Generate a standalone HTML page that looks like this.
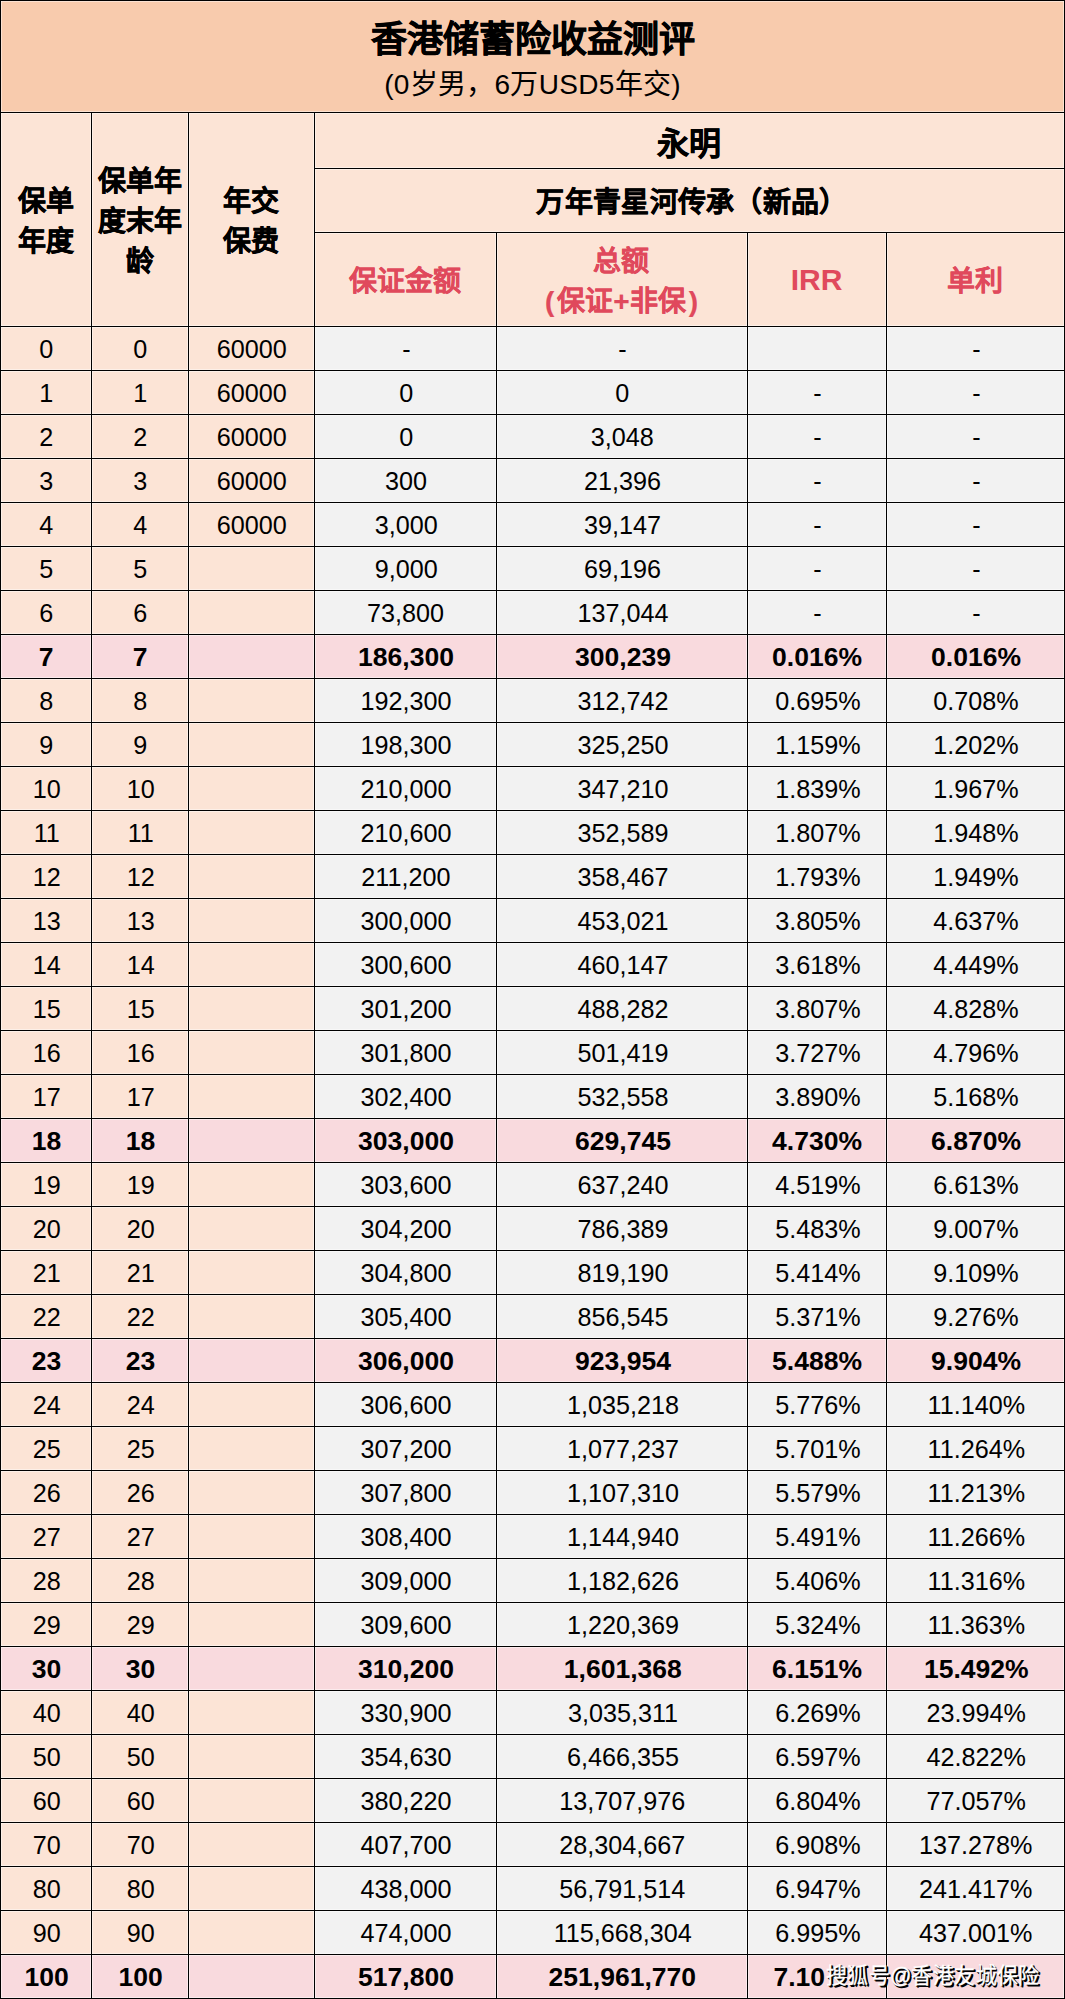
<!DOCTYPE html><html lang="zh-CN"><head><meta charset="utf-8"><style>
*{margin:0;padding:0;box-sizing:border-box}
html,body{width:1065px;height:1999px;overflow:hidden;background:#fff}
body{position:relative;font-family:"Liberation Sans",sans-serif;color:#000}
.b{position:absolute}
.l{position:absolute;background:#000}
.hh{position:absolute;background:rgba(255,255,255,.45)}
.t{position:absolute;display:flex;align-items:center;justify-content:center;white-space:nowrap;text-align:center}
.n{font-size:26.5px}
.n span{display:inline-block;transform:scaleX(.95);position:relative;top:1px;left:1px}
.nb{font-size:26px;font-weight:bold}
.nb span{display:inline-block;transform:scaleX(1.02);position:relative;top:1px;left:1px}
.hd{font-weight:bold;font-size:28px;line-height:40px;padding-top:6px;-webkit-text-stroke:0.5px currentColor}
.red{color:#E0495C}
.hd.red{-webkit-text-stroke:0.2px currentColor}
</style></head><body><div class="b" style="left:0px;top:0px;width:1065px;height:112px;background:#F8CBAD"></div><div class="b" style="left:0px;top:112px;width:1065px;height:214px;background:#FCE4D6"></div><div class="b" style="left:0px;top:326px;width:314px;height:44px;background:#FCE4D6"></div><div class="b" style="left:314px;top:326px;width:751px;height:44px;background:#F2F2F2"></div><div class="b" style="left:0px;top:370px;width:314px;height:44px;background:#FCE4D6"></div><div class="b" style="left:314px;top:370px;width:751px;height:44px;background:#F2F2F2"></div><div class="b" style="left:0px;top:414px;width:314px;height:44px;background:#FCE4D6"></div><div class="b" style="left:314px;top:414px;width:751px;height:44px;background:#F2F2F2"></div><div class="b" style="left:0px;top:458px;width:314px;height:44px;background:#FCE4D6"></div><div class="b" style="left:314px;top:458px;width:751px;height:44px;background:#F2F2F2"></div><div class="b" style="left:0px;top:502px;width:314px;height:44px;background:#FCE4D6"></div><div class="b" style="left:314px;top:502px;width:751px;height:44px;background:#F2F2F2"></div><div class="b" style="left:0px;top:546px;width:314px;height:44px;background:#FCE4D6"></div><div class="b" style="left:314px;top:546px;width:751px;height:44px;background:#F2F2F2"></div><div class="b" style="left:0px;top:590px;width:314px;height:44px;background:#FCE4D6"></div><div class="b" style="left:314px;top:590px;width:751px;height:44px;background:#F2F2F2"></div><div class="b" style="left:0px;top:634px;width:1065px;height:44px;background:#F9DADE"></div><div class="b" style="left:0px;top:678px;width:314px;height:44px;background:#FCE4D6"></div><div class="b" style="left:314px;top:678px;width:751px;height:44px;background:#F2F2F2"></div><div class="b" style="left:0px;top:722px;width:314px;height:44px;background:#FCE4D6"></div><div class="b" style="left:314px;top:722px;width:751px;height:44px;background:#F2F2F2"></div><div class="b" style="left:0px;top:766px;width:314px;height:44px;background:#FCE4D6"></div><div class="b" style="left:314px;top:766px;width:751px;height:44px;background:#F2F2F2"></div><div class="b" style="left:0px;top:810px;width:314px;height:44px;background:#FCE4D6"></div><div class="b" style="left:314px;top:810px;width:751px;height:44px;background:#F2F2F2"></div><div class="b" style="left:0px;top:854px;width:314px;height:44px;background:#FCE4D6"></div><div class="b" style="left:314px;top:854px;width:751px;height:44px;background:#F2F2F2"></div><div class="b" style="left:0px;top:898px;width:314px;height:44px;background:#FCE4D6"></div><div class="b" style="left:314px;top:898px;width:751px;height:44px;background:#F2F2F2"></div><div class="b" style="left:0px;top:942px;width:314px;height:44px;background:#FCE4D6"></div><div class="b" style="left:314px;top:942px;width:751px;height:44px;background:#F2F2F2"></div><div class="b" style="left:0px;top:986px;width:314px;height:44px;background:#FCE4D6"></div><div class="b" style="left:314px;top:986px;width:751px;height:44px;background:#F2F2F2"></div><div class="b" style="left:0px;top:1030px;width:314px;height:44px;background:#FCE4D6"></div><div class="b" style="left:314px;top:1030px;width:751px;height:44px;background:#F2F2F2"></div><div class="b" style="left:0px;top:1074px;width:314px;height:44px;background:#FCE4D6"></div><div class="b" style="left:314px;top:1074px;width:751px;height:44px;background:#F2F2F2"></div><div class="b" style="left:0px;top:1118px;width:1065px;height:44px;background:#F9DADE"></div><div class="b" style="left:0px;top:1162px;width:314px;height:44px;background:#FCE4D6"></div><div class="b" style="left:314px;top:1162px;width:751px;height:44px;background:#F2F2F2"></div><div class="b" style="left:0px;top:1206px;width:314px;height:44px;background:#FCE4D6"></div><div class="b" style="left:314px;top:1206px;width:751px;height:44px;background:#F2F2F2"></div><div class="b" style="left:0px;top:1250px;width:314px;height:44px;background:#FCE4D6"></div><div class="b" style="left:314px;top:1250px;width:751px;height:44px;background:#F2F2F2"></div><div class="b" style="left:0px;top:1294px;width:314px;height:44px;background:#FCE4D6"></div><div class="b" style="left:314px;top:1294px;width:751px;height:44px;background:#F2F2F2"></div><div class="b" style="left:0px;top:1338px;width:1065px;height:44px;background:#F9DADE"></div><div class="b" style="left:0px;top:1382px;width:314px;height:44px;background:#FCE4D6"></div><div class="b" style="left:314px;top:1382px;width:751px;height:44px;background:#F2F2F2"></div><div class="b" style="left:0px;top:1426px;width:314px;height:44px;background:#FCE4D6"></div><div class="b" style="left:314px;top:1426px;width:751px;height:44px;background:#F2F2F2"></div><div class="b" style="left:0px;top:1470px;width:314px;height:44px;background:#FCE4D6"></div><div class="b" style="left:314px;top:1470px;width:751px;height:44px;background:#F2F2F2"></div><div class="b" style="left:0px;top:1514px;width:314px;height:44px;background:#FCE4D6"></div><div class="b" style="left:314px;top:1514px;width:751px;height:44px;background:#F2F2F2"></div><div class="b" style="left:0px;top:1558px;width:314px;height:44px;background:#FCE4D6"></div><div class="b" style="left:314px;top:1558px;width:751px;height:44px;background:#F2F2F2"></div><div class="b" style="left:0px;top:1602px;width:314px;height:44px;background:#FCE4D6"></div><div class="b" style="left:314px;top:1602px;width:751px;height:44px;background:#F2F2F2"></div><div class="b" style="left:0px;top:1646px;width:1065px;height:44px;background:#F9DADE"></div><div class="b" style="left:0px;top:1690px;width:314px;height:44px;background:#FCE4D6"></div><div class="b" style="left:314px;top:1690px;width:751px;height:44px;background:#F2F2F2"></div><div class="b" style="left:0px;top:1734px;width:314px;height:44px;background:#FCE4D6"></div><div class="b" style="left:314px;top:1734px;width:751px;height:44px;background:#F2F2F2"></div><div class="b" style="left:0px;top:1778px;width:314px;height:44px;background:#FCE4D6"></div><div class="b" style="left:314px;top:1778px;width:751px;height:44px;background:#F2F2F2"></div><div class="b" style="left:0px;top:1822px;width:314px;height:44px;background:#FCE4D6"></div><div class="b" style="left:314px;top:1822px;width:751px;height:44px;background:#F2F2F2"></div><div class="b" style="left:0px;top:1866px;width:314px;height:44px;background:#FCE4D6"></div><div class="b" style="left:314px;top:1866px;width:751px;height:44px;background:#F2F2F2"></div><div class="b" style="left:0px;top:1910px;width:314px;height:44px;background:#FCE4D6"></div><div class="b" style="left:314px;top:1910px;width:751px;height:44px;background:#F2F2F2"></div><div class="b" style="left:0px;top:1954px;width:1065px;height:44px;background:#F9DADE"></div><div class="hh" style="left:0px;top:-1px;width:1065px;height:1px"></div><div class="hh" style="left:0px;top:1px;width:1065px;height:1px"></div><div class="hh" style="left:0px;top:111px;width:1065px;height:1px"></div><div class="hh" style="left:0px;top:113px;width:1065px;height:1px"></div><div class="hh" style="left:314px;top:167px;width:751px;height:1px"></div><div class="hh" style="left:314px;top:169px;width:751px;height:1px"></div><div class="hh" style="left:314px;top:231px;width:751px;height:1px"></div><div class="hh" style="left:314px;top:233px;width:751px;height:1px"></div><div class="hh" style="left:0px;top:325px;width:1065px;height:1px"></div><div class="hh" style="left:0px;top:327px;width:1065px;height:1px"></div><div class="hh" style="left:0px;top:369px;width:1065px;height:1px"></div><div class="hh" style="left:0px;top:371px;width:1065px;height:1px"></div><div class="hh" style="left:0px;top:413px;width:1065px;height:1px"></div><div class="hh" style="left:0px;top:415px;width:1065px;height:1px"></div><div class="hh" style="left:0px;top:457px;width:1065px;height:1px"></div><div class="hh" style="left:0px;top:459px;width:1065px;height:1px"></div><div class="hh" style="left:0px;top:501px;width:1065px;height:1px"></div><div class="hh" style="left:0px;top:503px;width:1065px;height:1px"></div><div class="hh" style="left:0px;top:545px;width:1065px;height:1px"></div><div class="hh" style="left:0px;top:547px;width:1065px;height:1px"></div><div class="hh" style="left:0px;top:589px;width:1065px;height:1px"></div><div class="hh" style="left:0px;top:591px;width:1065px;height:1px"></div><div class="hh" style="left:0px;top:633px;width:1065px;height:1px"></div><div class="hh" style="left:0px;top:635px;width:1065px;height:1px"></div><div class="hh" style="left:0px;top:677px;width:1065px;height:1px"></div><div class="hh" style="left:0px;top:679px;width:1065px;height:1px"></div><div class="hh" style="left:0px;top:721px;width:1065px;height:1px"></div><div class="hh" style="left:0px;top:723px;width:1065px;height:1px"></div><div class="hh" style="left:0px;top:765px;width:1065px;height:1px"></div><div class="hh" style="left:0px;top:767px;width:1065px;height:1px"></div><div class="hh" style="left:0px;top:809px;width:1065px;height:1px"></div><div class="hh" style="left:0px;top:811px;width:1065px;height:1px"></div><div class="hh" style="left:0px;top:853px;width:1065px;height:1px"></div><div class="hh" style="left:0px;top:855px;width:1065px;height:1px"></div><div class="hh" style="left:0px;top:897px;width:1065px;height:1px"></div><div class="hh" style="left:0px;top:899px;width:1065px;height:1px"></div><div class="hh" style="left:0px;top:941px;width:1065px;height:1px"></div><div class="hh" style="left:0px;top:943px;width:1065px;height:1px"></div><div class="hh" style="left:0px;top:985px;width:1065px;height:1px"></div><div class="hh" style="left:0px;top:987px;width:1065px;height:1px"></div><div class="hh" style="left:0px;top:1029px;width:1065px;height:1px"></div><div class="hh" style="left:0px;top:1031px;width:1065px;height:1px"></div><div class="hh" style="left:0px;top:1073px;width:1065px;height:1px"></div><div class="hh" style="left:0px;top:1075px;width:1065px;height:1px"></div><div class="hh" style="left:0px;top:1117px;width:1065px;height:1px"></div><div class="hh" style="left:0px;top:1119px;width:1065px;height:1px"></div><div class="hh" style="left:0px;top:1161px;width:1065px;height:1px"></div><div class="hh" style="left:0px;top:1163px;width:1065px;height:1px"></div><div class="hh" style="left:0px;top:1205px;width:1065px;height:1px"></div><div class="hh" style="left:0px;top:1207px;width:1065px;height:1px"></div><div class="hh" style="left:0px;top:1249px;width:1065px;height:1px"></div><div class="hh" style="left:0px;top:1251px;width:1065px;height:1px"></div><div class="hh" style="left:0px;top:1293px;width:1065px;height:1px"></div><div class="hh" style="left:0px;top:1295px;width:1065px;height:1px"></div><div class="hh" style="left:0px;top:1337px;width:1065px;height:1px"></div><div class="hh" style="left:0px;top:1339px;width:1065px;height:1px"></div><div class="hh" style="left:0px;top:1381px;width:1065px;height:1px"></div><div class="hh" style="left:0px;top:1383px;width:1065px;height:1px"></div><div class="hh" style="left:0px;top:1425px;width:1065px;height:1px"></div><div class="hh" style="left:0px;top:1427px;width:1065px;height:1px"></div><div class="hh" style="left:0px;top:1469px;width:1065px;height:1px"></div><div class="hh" style="left:0px;top:1471px;width:1065px;height:1px"></div><div class="hh" style="left:0px;top:1513px;width:1065px;height:1px"></div><div class="hh" style="left:0px;top:1515px;width:1065px;height:1px"></div><div class="hh" style="left:0px;top:1557px;width:1065px;height:1px"></div><div class="hh" style="left:0px;top:1559px;width:1065px;height:1px"></div><div class="hh" style="left:0px;top:1601px;width:1065px;height:1px"></div><div class="hh" style="left:0px;top:1603px;width:1065px;height:1px"></div><div class="hh" style="left:0px;top:1645px;width:1065px;height:1px"></div><div class="hh" style="left:0px;top:1647px;width:1065px;height:1px"></div><div class="hh" style="left:0px;top:1689px;width:1065px;height:1px"></div><div class="hh" style="left:0px;top:1691px;width:1065px;height:1px"></div><div class="hh" style="left:0px;top:1733px;width:1065px;height:1px"></div><div class="hh" style="left:0px;top:1735px;width:1065px;height:1px"></div><div class="hh" style="left:0px;top:1777px;width:1065px;height:1px"></div><div class="hh" style="left:0px;top:1779px;width:1065px;height:1px"></div><div class="hh" style="left:0px;top:1821px;width:1065px;height:1px"></div><div class="hh" style="left:0px;top:1823px;width:1065px;height:1px"></div><div class="hh" style="left:0px;top:1865px;width:1065px;height:1px"></div><div class="hh" style="left:0px;top:1867px;width:1065px;height:1px"></div><div class="hh" style="left:0px;top:1909px;width:1065px;height:1px"></div><div class="hh" style="left:0px;top:1911px;width:1065px;height:1px"></div><div class="hh" style="left:0px;top:1953px;width:1065px;height:1px"></div><div class="hh" style="left:0px;top:1955px;width:1065px;height:1px"></div><div class="hh" style="left:0px;top:1997px;width:1065px;height:1px"></div><div class="hh" style="left:0px;top:1999px;width:1065px;height:1px"></div><div class="hh" style="left:-1px;top:0px;width:1px;height:1999px"></div><div class="hh" style="left:1px;top:0px;width:1px;height:1999px"></div><div class="hh" style="left:1063px;top:0px;width:1px;height:1999px"></div><div class="hh" style="left:1065px;top:0px;width:1px;height:1999px"></div><div class="hh" style="left:90px;top:112px;width:1px;height:1887px"></div><div class="hh" style="left:92px;top:112px;width:1px;height:1887px"></div><div class="hh" style="left:187px;top:112px;width:1px;height:1887px"></div><div class="hh" style="left:189px;top:112px;width:1px;height:1887px"></div><div class="hh" style="left:313px;top:112px;width:1px;height:1887px"></div><div class="hh" style="left:315px;top:112px;width:1px;height:1887px"></div><div class="hh" style="left:495px;top:232px;width:1px;height:1767px"></div><div class="hh" style="left:497px;top:232px;width:1px;height:1767px"></div><div class="hh" style="left:746px;top:232px;width:1px;height:1767px"></div><div class="hh" style="left:748px;top:232px;width:1px;height:1767px"></div><div class="hh" style="left:885px;top:232px;width:1px;height:1767px"></div><div class="hh" style="left:887px;top:232px;width:1px;height:1767px"></div><div class="l" style="left:0px;top:0px;width:1065px;height:1px"></div><div class="l" style="left:0px;top:112px;width:1065px;height:1px"></div><div class="l" style="left:314px;top:168px;width:751px;height:1px"></div><div class="l" style="left:314px;top:232px;width:751px;height:1px"></div><div class="l" style="left:0px;top:326px;width:1065px;height:1px"></div><div class="l" style="left:0px;top:370px;width:1065px;height:1px"></div><div class="l" style="left:0px;top:414px;width:1065px;height:1px"></div><div class="l" style="left:0px;top:458px;width:1065px;height:1px"></div><div class="l" style="left:0px;top:502px;width:1065px;height:1px"></div><div class="l" style="left:0px;top:546px;width:1065px;height:1px"></div><div class="l" style="left:0px;top:590px;width:1065px;height:1px"></div><div class="l" style="left:0px;top:634px;width:1065px;height:1px"></div><div class="l" style="left:0px;top:678px;width:1065px;height:1px"></div><div class="l" style="left:0px;top:722px;width:1065px;height:1px"></div><div class="l" style="left:0px;top:766px;width:1065px;height:1px"></div><div class="l" style="left:0px;top:810px;width:1065px;height:1px"></div><div class="l" style="left:0px;top:854px;width:1065px;height:1px"></div><div class="l" style="left:0px;top:898px;width:1065px;height:1px"></div><div class="l" style="left:0px;top:942px;width:1065px;height:1px"></div><div class="l" style="left:0px;top:986px;width:1065px;height:1px"></div><div class="l" style="left:0px;top:1030px;width:1065px;height:1px"></div><div class="l" style="left:0px;top:1074px;width:1065px;height:1px"></div><div class="l" style="left:0px;top:1118px;width:1065px;height:1px"></div><div class="l" style="left:0px;top:1162px;width:1065px;height:1px"></div><div class="l" style="left:0px;top:1206px;width:1065px;height:1px"></div><div class="l" style="left:0px;top:1250px;width:1065px;height:1px"></div><div class="l" style="left:0px;top:1294px;width:1065px;height:1px"></div><div class="l" style="left:0px;top:1338px;width:1065px;height:1px"></div><div class="l" style="left:0px;top:1382px;width:1065px;height:1px"></div><div class="l" style="left:0px;top:1426px;width:1065px;height:1px"></div><div class="l" style="left:0px;top:1470px;width:1065px;height:1px"></div><div class="l" style="left:0px;top:1514px;width:1065px;height:1px"></div><div class="l" style="left:0px;top:1558px;width:1065px;height:1px"></div><div class="l" style="left:0px;top:1602px;width:1065px;height:1px"></div><div class="l" style="left:0px;top:1646px;width:1065px;height:1px"></div><div class="l" style="left:0px;top:1690px;width:1065px;height:1px"></div><div class="l" style="left:0px;top:1734px;width:1065px;height:1px"></div><div class="l" style="left:0px;top:1778px;width:1065px;height:1px"></div><div class="l" style="left:0px;top:1822px;width:1065px;height:1px"></div><div class="l" style="left:0px;top:1866px;width:1065px;height:1px"></div><div class="l" style="left:0px;top:1910px;width:1065px;height:1px"></div><div class="l" style="left:0px;top:1954px;width:1065px;height:1px"></div><div class="l" style="left:0px;top:1998px;width:1065px;height:1px"></div><div class="l" style="left:0px;top:0px;width:1px;height:1999px"></div><div class="l" style="left:1064px;top:0px;width:1px;height:1999px"></div><div class="l" style="left:91px;top:112px;width:1px;height:1887px"></div><div class="l" style="left:188px;top:112px;width:1px;height:1887px"></div><div class="l" style="left:314px;top:112px;width:1px;height:1887px"></div><div class="l" style="left:496px;top:232px;width:1px;height:1767px"></div><div class="l" style="left:747px;top:232px;width:1px;height:1767px"></div><div class="l" style="left:886px;top:232px;width:1px;height:1767px"></div><div class="t " style="left:0px;top:13px;width:1065px;height:44px;"><div><span style="font-size:36px;font-weight:bold;-webkit-text-stroke:0.6px #000;position:relative;top:1px">香港储蓄险收益测评</span></div></div><div class="t " style="left:0px;top:62px;width:1065px;height:40px;"><div><span style="font-size:28px;position:relative;top:0px;letter-spacing:0.3px">(0岁男，6万USD5年交)</span></div></div><div class="t hd" style="left:0px;top:112px;width:91px;height:214px;"><div>保单<br>年度</div></div><div class="t hd" style="left:91px;top:112px;width:97px;height:214px;"><div>保单年<br>度末年<br>龄</div></div><div class="t hd" style="left:188px;top:112px;width:126px;height:214px;"><div>年交<br>保费</div></div><div class="t " style="left:314px;top:112px;width:750px;height:56px;"><div><span style="font-size:32px;font-weight:bold;-webkit-text-stroke:0.5px #000;position:relative;top:1px">永明</span></div></div><div class="t hd" style="left:314px;top:168px;width:750px;height:64px;"><div><span style="letter-spacing:0.3px;position:relative;left:3px">万年青星河传承（新品）</span></div></div><div class="t hd red" style="left:314px;top:232px;width:182px;height:94px;"><div>保证金额</div></div><div class="t hd red" style="left:496px;top:232px;width:251px;height:94px;"><div>总额<br><span style="margin-right:3px">(</span>保证+非保<span style="margin-left:3px">)</span></div></div><div class="t red" style="left:747px;top:232px;width:139px;height:94px;"><div><span style="font-size:30px;font-weight:bold;position:relative;top:1px">IRR</span></div></div><div class="t hd red" style="left:886px;top:232px;width:178px;height:94px;"><div>单利</div></div><div class="t n" style="left:0px;top:326px;width:91px;height:44px;"><div><span>0</span></div></div><div class="t n" style="left:91px;top:326px;width:97px;height:44px;"><div><span>0</span></div></div><div class="t n" style="left:188px;top:326px;width:126px;height:44px;"><div><span>60000</span></div></div><div class="t n" style="left:314px;top:326px;width:182px;height:44px;"><div><span>-</span></div></div><div class="t n" style="left:496px;top:326px;width:251px;height:44px;"><div><span>-</span></div></div><div class="t n" style="left:886px;top:326px;width:178px;height:44px;"><div><span>-</span></div></div><div class="t n" style="left:0px;top:370px;width:91px;height:44px;"><div><span>1</span></div></div><div class="t n" style="left:91px;top:370px;width:97px;height:44px;"><div><span>1</span></div></div><div class="t n" style="left:188px;top:370px;width:126px;height:44px;"><div><span>60000</span></div></div><div class="t n" style="left:314px;top:370px;width:182px;height:44px;"><div><span>0</span></div></div><div class="t n" style="left:496px;top:370px;width:251px;height:44px;"><div><span>0</span></div></div><div class="t n" style="left:747px;top:370px;width:139px;height:44px;"><div><span>-</span></div></div><div class="t n" style="left:886px;top:370px;width:178px;height:44px;"><div><span>-</span></div></div><div class="t n" style="left:0px;top:414px;width:91px;height:44px;"><div><span>2</span></div></div><div class="t n" style="left:91px;top:414px;width:97px;height:44px;"><div><span>2</span></div></div><div class="t n" style="left:188px;top:414px;width:126px;height:44px;"><div><span>60000</span></div></div><div class="t n" style="left:314px;top:414px;width:182px;height:44px;"><div><span>0</span></div></div><div class="t n" style="left:496px;top:414px;width:251px;height:44px;"><div><span>3,048</span></div></div><div class="t n" style="left:747px;top:414px;width:139px;height:44px;"><div><span>-</span></div></div><div class="t n" style="left:886px;top:414px;width:178px;height:44px;"><div><span>-</span></div></div><div class="t n" style="left:0px;top:458px;width:91px;height:44px;"><div><span>3</span></div></div><div class="t n" style="left:91px;top:458px;width:97px;height:44px;"><div><span>3</span></div></div><div class="t n" style="left:188px;top:458px;width:126px;height:44px;"><div><span>60000</span></div></div><div class="t n" style="left:314px;top:458px;width:182px;height:44px;"><div><span>300</span></div></div><div class="t n" style="left:496px;top:458px;width:251px;height:44px;"><div><span>21,396</span></div></div><div class="t n" style="left:747px;top:458px;width:139px;height:44px;"><div><span>-</span></div></div><div class="t n" style="left:886px;top:458px;width:178px;height:44px;"><div><span>-</span></div></div><div class="t n" style="left:0px;top:502px;width:91px;height:44px;"><div><span>4</span></div></div><div class="t n" style="left:91px;top:502px;width:97px;height:44px;"><div><span>4</span></div></div><div class="t n" style="left:188px;top:502px;width:126px;height:44px;"><div><span>60000</span></div></div><div class="t n" style="left:314px;top:502px;width:182px;height:44px;"><div><span>3,000</span></div></div><div class="t n" style="left:496px;top:502px;width:251px;height:44px;"><div><span>39,147</span></div></div><div class="t n" style="left:747px;top:502px;width:139px;height:44px;"><div><span>-</span></div></div><div class="t n" style="left:886px;top:502px;width:178px;height:44px;"><div><span>-</span></div></div><div class="t n" style="left:0px;top:546px;width:91px;height:44px;"><div><span>5</span></div></div><div class="t n" style="left:91px;top:546px;width:97px;height:44px;"><div><span>5</span></div></div><div class="t n" style="left:314px;top:546px;width:182px;height:44px;"><div><span>9,000</span></div></div><div class="t n" style="left:496px;top:546px;width:251px;height:44px;"><div><span>69,196</span></div></div><div class="t n" style="left:747px;top:546px;width:139px;height:44px;"><div><span>-</span></div></div><div class="t n" style="left:886px;top:546px;width:178px;height:44px;"><div><span>-</span></div></div><div class="t n" style="left:0px;top:590px;width:91px;height:44px;"><div><span>6</span></div></div><div class="t n" style="left:91px;top:590px;width:97px;height:44px;"><div><span>6</span></div></div><div class="t n" style="left:314px;top:590px;width:182px;height:44px;"><div><span>73,800</span></div></div><div class="t n" style="left:496px;top:590px;width:251px;height:44px;"><div><span>137,044</span></div></div><div class="t n" style="left:747px;top:590px;width:139px;height:44px;"><div><span>-</span></div></div><div class="t n" style="left:886px;top:590px;width:178px;height:44px;"><div><span>-</span></div></div><div class="t nb" style="left:0px;top:634px;width:91px;height:44px;"><div><span>7</span></div></div><div class="t nb" style="left:91px;top:634px;width:97px;height:44px;"><div><span>7</span></div></div><div class="t nb" style="left:314px;top:634px;width:182px;height:44px;"><div><span>186,300</span></div></div><div class="t nb" style="left:496px;top:634px;width:251px;height:44px;"><div><span>300,239</span></div></div><div class="t nb" style="left:747px;top:634px;width:139px;height:44px;"><div><span>0.016%</span></div></div><div class="t nb" style="left:886px;top:634px;width:178px;height:44px;"><div><span>0.016%</span></div></div><div class="t n" style="left:0px;top:678px;width:91px;height:44px;"><div><span>8</span></div></div><div class="t n" style="left:91px;top:678px;width:97px;height:44px;"><div><span>8</span></div></div><div class="t n" style="left:314px;top:678px;width:182px;height:44px;"><div><span>192,300</span></div></div><div class="t n" style="left:496px;top:678px;width:251px;height:44px;"><div><span>312,742</span></div></div><div class="t n" style="left:747px;top:678px;width:139px;height:44px;"><div><span>0.695%</span></div></div><div class="t n" style="left:886px;top:678px;width:178px;height:44px;"><div><span>0.708%</span></div></div><div class="t n" style="left:0px;top:722px;width:91px;height:44px;"><div><span>9</span></div></div><div class="t n" style="left:91px;top:722px;width:97px;height:44px;"><div><span>9</span></div></div><div class="t n" style="left:314px;top:722px;width:182px;height:44px;"><div><span>198,300</span></div></div><div class="t n" style="left:496px;top:722px;width:251px;height:44px;"><div><span>325,250</span></div></div><div class="t n" style="left:747px;top:722px;width:139px;height:44px;"><div><span>1.159%</span></div></div><div class="t n" style="left:886px;top:722px;width:178px;height:44px;"><div><span>1.202%</span></div></div><div class="t n" style="left:0px;top:766px;width:91px;height:44px;"><div><span>10</span></div></div><div class="t n" style="left:91px;top:766px;width:97px;height:44px;"><div><span>10</span></div></div><div class="t n" style="left:314px;top:766px;width:182px;height:44px;"><div><span>210,000</span></div></div><div class="t n" style="left:496px;top:766px;width:251px;height:44px;"><div><span>347,210</span></div></div><div class="t n" style="left:747px;top:766px;width:139px;height:44px;"><div><span>1.839%</span></div></div><div class="t n" style="left:886px;top:766px;width:178px;height:44px;"><div><span>1.967%</span></div></div><div class="t n" style="left:0px;top:810px;width:91px;height:44px;"><div><span>11</span></div></div><div class="t n" style="left:91px;top:810px;width:97px;height:44px;"><div><span>11</span></div></div><div class="t n" style="left:314px;top:810px;width:182px;height:44px;"><div><span>210,600</span></div></div><div class="t n" style="left:496px;top:810px;width:251px;height:44px;"><div><span>352,589</span></div></div><div class="t n" style="left:747px;top:810px;width:139px;height:44px;"><div><span>1.807%</span></div></div><div class="t n" style="left:886px;top:810px;width:178px;height:44px;"><div><span>1.948%</span></div></div><div class="t n" style="left:0px;top:854px;width:91px;height:44px;"><div><span>12</span></div></div><div class="t n" style="left:91px;top:854px;width:97px;height:44px;"><div><span>12</span></div></div><div class="t n" style="left:314px;top:854px;width:182px;height:44px;"><div><span>211,200</span></div></div><div class="t n" style="left:496px;top:854px;width:251px;height:44px;"><div><span>358,467</span></div></div><div class="t n" style="left:747px;top:854px;width:139px;height:44px;"><div><span>1.793%</span></div></div><div class="t n" style="left:886px;top:854px;width:178px;height:44px;"><div><span>1.949%</span></div></div><div class="t n" style="left:0px;top:898px;width:91px;height:44px;"><div><span>13</span></div></div><div class="t n" style="left:91px;top:898px;width:97px;height:44px;"><div><span>13</span></div></div><div class="t n" style="left:314px;top:898px;width:182px;height:44px;"><div><span>300,000</span></div></div><div class="t n" style="left:496px;top:898px;width:251px;height:44px;"><div><span>453,021</span></div></div><div class="t n" style="left:747px;top:898px;width:139px;height:44px;"><div><span>3.805%</span></div></div><div class="t n" style="left:886px;top:898px;width:178px;height:44px;"><div><span>4.637%</span></div></div><div class="t n" style="left:0px;top:942px;width:91px;height:44px;"><div><span>14</span></div></div><div class="t n" style="left:91px;top:942px;width:97px;height:44px;"><div><span>14</span></div></div><div class="t n" style="left:314px;top:942px;width:182px;height:44px;"><div><span>300,600</span></div></div><div class="t n" style="left:496px;top:942px;width:251px;height:44px;"><div><span>460,147</span></div></div><div class="t n" style="left:747px;top:942px;width:139px;height:44px;"><div><span>3.618%</span></div></div><div class="t n" style="left:886px;top:942px;width:178px;height:44px;"><div><span>4.449%</span></div></div><div class="t n" style="left:0px;top:986px;width:91px;height:44px;"><div><span>15</span></div></div><div class="t n" style="left:91px;top:986px;width:97px;height:44px;"><div><span>15</span></div></div><div class="t n" style="left:314px;top:986px;width:182px;height:44px;"><div><span>301,200</span></div></div><div class="t n" style="left:496px;top:986px;width:251px;height:44px;"><div><span>488,282</span></div></div><div class="t n" style="left:747px;top:986px;width:139px;height:44px;"><div><span>3.807%</span></div></div><div class="t n" style="left:886px;top:986px;width:178px;height:44px;"><div><span>4.828%</span></div></div><div class="t n" style="left:0px;top:1030px;width:91px;height:44px;"><div><span>16</span></div></div><div class="t n" style="left:91px;top:1030px;width:97px;height:44px;"><div><span>16</span></div></div><div class="t n" style="left:314px;top:1030px;width:182px;height:44px;"><div><span>301,800</span></div></div><div class="t n" style="left:496px;top:1030px;width:251px;height:44px;"><div><span>501,419</span></div></div><div class="t n" style="left:747px;top:1030px;width:139px;height:44px;"><div><span>3.727%</span></div></div><div class="t n" style="left:886px;top:1030px;width:178px;height:44px;"><div><span>4.796%</span></div></div><div class="t n" style="left:0px;top:1074px;width:91px;height:44px;"><div><span>17</span></div></div><div class="t n" style="left:91px;top:1074px;width:97px;height:44px;"><div><span>17</span></div></div><div class="t n" style="left:314px;top:1074px;width:182px;height:44px;"><div><span>302,400</span></div></div><div class="t n" style="left:496px;top:1074px;width:251px;height:44px;"><div><span>532,558</span></div></div><div class="t n" style="left:747px;top:1074px;width:139px;height:44px;"><div><span>3.890%</span></div></div><div class="t n" style="left:886px;top:1074px;width:178px;height:44px;"><div><span>5.168%</span></div></div><div class="t nb" style="left:0px;top:1118px;width:91px;height:44px;"><div><span>18</span></div></div><div class="t nb" style="left:91px;top:1118px;width:97px;height:44px;"><div><span>18</span></div></div><div class="t nb" style="left:314px;top:1118px;width:182px;height:44px;"><div><span>303,000</span></div></div><div class="t nb" style="left:496px;top:1118px;width:251px;height:44px;"><div><span>629,745</span></div></div><div class="t nb" style="left:747px;top:1118px;width:139px;height:44px;"><div><span>4.730%</span></div></div><div class="t nb" style="left:886px;top:1118px;width:178px;height:44px;"><div><span>6.870%</span></div></div><div class="t n" style="left:0px;top:1162px;width:91px;height:44px;"><div><span>19</span></div></div><div class="t n" style="left:91px;top:1162px;width:97px;height:44px;"><div><span>19</span></div></div><div class="t n" style="left:314px;top:1162px;width:182px;height:44px;"><div><span>303,600</span></div></div><div class="t n" style="left:496px;top:1162px;width:251px;height:44px;"><div><span>637,240</span></div></div><div class="t n" style="left:747px;top:1162px;width:139px;height:44px;"><div><span>4.519%</span></div></div><div class="t n" style="left:886px;top:1162px;width:178px;height:44px;"><div><span>6.613%</span></div></div><div class="t n" style="left:0px;top:1206px;width:91px;height:44px;"><div><span>20</span></div></div><div class="t n" style="left:91px;top:1206px;width:97px;height:44px;"><div><span>20</span></div></div><div class="t n" style="left:314px;top:1206px;width:182px;height:44px;"><div><span>304,200</span></div></div><div class="t n" style="left:496px;top:1206px;width:251px;height:44px;"><div><span>786,389</span></div></div><div class="t n" style="left:747px;top:1206px;width:139px;height:44px;"><div><span>5.483%</span></div></div><div class="t n" style="left:886px;top:1206px;width:178px;height:44px;"><div><span>9.007%</span></div></div><div class="t n" style="left:0px;top:1250px;width:91px;height:44px;"><div><span>21</span></div></div><div class="t n" style="left:91px;top:1250px;width:97px;height:44px;"><div><span>21</span></div></div><div class="t n" style="left:314px;top:1250px;width:182px;height:44px;"><div><span>304,800</span></div></div><div class="t n" style="left:496px;top:1250px;width:251px;height:44px;"><div><span>819,190</span></div></div><div class="t n" style="left:747px;top:1250px;width:139px;height:44px;"><div><span>5.414%</span></div></div><div class="t n" style="left:886px;top:1250px;width:178px;height:44px;"><div><span>9.109%</span></div></div><div class="t n" style="left:0px;top:1294px;width:91px;height:44px;"><div><span>22</span></div></div><div class="t n" style="left:91px;top:1294px;width:97px;height:44px;"><div><span>22</span></div></div><div class="t n" style="left:314px;top:1294px;width:182px;height:44px;"><div><span>305,400</span></div></div><div class="t n" style="left:496px;top:1294px;width:251px;height:44px;"><div><span>856,545</span></div></div><div class="t n" style="left:747px;top:1294px;width:139px;height:44px;"><div><span>5.371%</span></div></div><div class="t n" style="left:886px;top:1294px;width:178px;height:44px;"><div><span>9.276%</span></div></div><div class="t nb" style="left:0px;top:1338px;width:91px;height:44px;"><div><span>23</span></div></div><div class="t nb" style="left:91px;top:1338px;width:97px;height:44px;"><div><span>23</span></div></div><div class="t nb" style="left:314px;top:1338px;width:182px;height:44px;"><div><span>306,000</span></div></div><div class="t nb" style="left:496px;top:1338px;width:251px;height:44px;"><div><span>923,954</span></div></div><div class="t nb" style="left:747px;top:1338px;width:139px;height:44px;"><div><span>5.488%</span></div></div><div class="t nb" style="left:886px;top:1338px;width:178px;height:44px;"><div><span>9.904%</span></div></div><div class="t n" style="left:0px;top:1382px;width:91px;height:44px;"><div><span>24</span></div></div><div class="t n" style="left:91px;top:1382px;width:97px;height:44px;"><div><span>24</span></div></div><div class="t n" style="left:314px;top:1382px;width:182px;height:44px;"><div><span>306,600</span></div></div><div class="t n" style="left:496px;top:1382px;width:251px;height:44px;"><div><span>1,035,218</span></div></div><div class="t n" style="left:747px;top:1382px;width:139px;height:44px;"><div><span>5.776%</span></div></div><div class="t n" style="left:886px;top:1382px;width:178px;height:44px;"><div><span>11.140%</span></div></div><div class="t n" style="left:0px;top:1426px;width:91px;height:44px;"><div><span>25</span></div></div><div class="t n" style="left:91px;top:1426px;width:97px;height:44px;"><div><span>25</span></div></div><div class="t n" style="left:314px;top:1426px;width:182px;height:44px;"><div><span>307,200</span></div></div><div class="t n" style="left:496px;top:1426px;width:251px;height:44px;"><div><span>1,077,237</span></div></div><div class="t n" style="left:747px;top:1426px;width:139px;height:44px;"><div><span>5.701%</span></div></div><div class="t n" style="left:886px;top:1426px;width:178px;height:44px;"><div><span>11.264%</span></div></div><div class="t n" style="left:0px;top:1470px;width:91px;height:44px;"><div><span>26</span></div></div><div class="t n" style="left:91px;top:1470px;width:97px;height:44px;"><div><span>26</span></div></div><div class="t n" style="left:314px;top:1470px;width:182px;height:44px;"><div><span>307,800</span></div></div><div class="t n" style="left:496px;top:1470px;width:251px;height:44px;"><div><span>1,107,310</span></div></div><div class="t n" style="left:747px;top:1470px;width:139px;height:44px;"><div><span>5.579%</span></div></div><div class="t n" style="left:886px;top:1470px;width:178px;height:44px;"><div><span>11.213%</span></div></div><div class="t n" style="left:0px;top:1514px;width:91px;height:44px;"><div><span>27</span></div></div><div class="t n" style="left:91px;top:1514px;width:97px;height:44px;"><div><span>27</span></div></div><div class="t n" style="left:314px;top:1514px;width:182px;height:44px;"><div><span>308,400</span></div></div><div class="t n" style="left:496px;top:1514px;width:251px;height:44px;"><div><span>1,144,940</span></div></div><div class="t n" style="left:747px;top:1514px;width:139px;height:44px;"><div><span>5.491%</span></div></div><div class="t n" style="left:886px;top:1514px;width:178px;height:44px;"><div><span>11.266%</span></div></div><div class="t n" style="left:0px;top:1558px;width:91px;height:44px;"><div><span>28</span></div></div><div class="t n" style="left:91px;top:1558px;width:97px;height:44px;"><div><span>28</span></div></div><div class="t n" style="left:314px;top:1558px;width:182px;height:44px;"><div><span>309,000</span></div></div><div class="t n" style="left:496px;top:1558px;width:251px;height:44px;"><div><span>1,182,626</span></div></div><div class="t n" style="left:747px;top:1558px;width:139px;height:44px;"><div><span>5.406%</span></div></div><div class="t n" style="left:886px;top:1558px;width:178px;height:44px;"><div><span>11.316%</span></div></div><div class="t n" style="left:0px;top:1602px;width:91px;height:44px;"><div><span>29</span></div></div><div class="t n" style="left:91px;top:1602px;width:97px;height:44px;"><div><span>29</span></div></div><div class="t n" style="left:314px;top:1602px;width:182px;height:44px;"><div><span>309,600</span></div></div><div class="t n" style="left:496px;top:1602px;width:251px;height:44px;"><div><span>1,220,369</span></div></div><div class="t n" style="left:747px;top:1602px;width:139px;height:44px;"><div><span>5.324%</span></div></div><div class="t n" style="left:886px;top:1602px;width:178px;height:44px;"><div><span>11.363%</span></div></div><div class="t nb" style="left:0px;top:1646px;width:91px;height:44px;"><div><span>30</span></div></div><div class="t nb" style="left:91px;top:1646px;width:97px;height:44px;"><div><span>30</span></div></div><div class="t nb" style="left:314px;top:1646px;width:182px;height:44px;"><div><span>310,200</span></div></div><div class="t nb" style="left:496px;top:1646px;width:251px;height:44px;"><div><span>1,601,368</span></div></div><div class="t nb" style="left:747px;top:1646px;width:139px;height:44px;"><div><span>6.151%</span></div></div><div class="t nb" style="left:886px;top:1646px;width:178px;height:44px;"><div><span>15.492%</span></div></div><div class="t n" style="left:0px;top:1690px;width:91px;height:44px;"><div><span>40</span></div></div><div class="t n" style="left:91px;top:1690px;width:97px;height:44px;"><div><span>40</span></div></div><div class="t n" style="left:314px;top:1690px;width:182px;height:44px;"><div><span>330,900</span></div></div><div class="t n" style="left:496px;top:1690px;width:251px;height:44px;"><div><span>3,035,311</span></div></div><div class="t n" style="left:747px;top:1690px;width:139px;height:44px;"><div><span>6.269%</span></div></div><div class="t n" style="left:886px;top:1690px;width:178px;height:44px;"><div><span>23.994%</span></div></div><div class="t n" style="left:0px;top:1734px;width:91px;height:44px;"><div><span>50</span></div></div><div class="t n" style="left:91px;top:1734px;width:97px;height:44px;"><div><span>50</span></div></div><div class="t n" style="left:314px;top:1734px;width:182px;height:44px;"><div><span>354,630</span></div></div><div class="t n" style="left:496px;top:1734px;width:251px;height:44px;"><div><span>6,466,355</span></div></div><div class="t n" style="left:747px;top:1734px;width:139px;height:44px;"><div><span>6.597%</span></div></div><div class="t n" style="left:886px;top:1734px;width:178px;height:44px;"><div><span>42.822%</span></div></div><div class="t n" style="left:0px;top:1778px;width:91px;height:44px;"><div><span>60</span></div></div><div class="t n" style="left:91px;top:1778px;width:97px;height:44px;"><div><span>60</span></div></div><div class="t n" style="left:314px;top:1778px;width:182px;height:44px;"><div><span>380,220</span></div></div><div class="t n" style="left:496px;top:1778px;width:251px;height:44px;"><div><span>13,707,976</span></div></div><div class="t n" style="left:747px;top:1778px;width:139px;height:44px;"><div><span>6.804%</span></div></div><div class="t n" style="left:886px;top:1778px;width:178px;height:44px;"><div><span>77.057%</span></div></div><div class="t n" style="left:0px;top:1822px;width:91px;height:44px;"><div><span>70</span></div></div><div class="t n" style="left:91px;top:1822px;width:97px;height:44px;"><div><span>70</span></div></div><div class="t n" style="left:314px;top:1822px;width:182px;height:44px;"><div><span>407,700</span></div></div><div class="t n" style="left:496px;top:1822px;width:251px;height:44px;"><div><span>28,304,667</span></div></div><div class="t n" style="left:747px;top:1822px;width:139px;height:44px;"><div><span>6.908%</span></div></div><div class="t n" style="left:886px;top:1822px;width:178px;height:44px;"><div><span>137.278%</span></div></div><div class="t n" style="left:0px;top:1866px;width:91px;height:44px;"><div><span>80</span></div></div><div class="t n" style="left:91px;top:1866px;width:97px;height:44px;"><div><span>80</span></div></div><div class="t n" style="left:314px;top:1866px;width:182px;height:44px;"><div><span>438,000</span></div></div><div class="t n" style="left:496px;top:1866px;width:251px;height:44px;"><div><span>56,791,514</span></div></div><div class="t n" style="left:747px;top:1866px;width:139px;height:44px;"><div><span>6.947%</span></div></div><div class="t n" style="left:886px;top:1866px;width:178px;height:44px;"><div><span>241.417%</span></div></div><div class="t n" style="left:0px;top:1910px;width:91px;height:44px;"><div><span>90</span></div></div><div class="t n" style="left:91px;top:1910px;width:97px;height:44px;"><div><span>90</span></div></div><div class="t n" style="left:314px;top:1910px;width:182px;height:44px;"><div><span>474,000</span></div></div><div class="t n" style="left:496px;top:1910px;width:251px;height:44px;"><div><span>115,668,304</span></div></div><div class="t n" style="left:747px;top:1910px;width:139px;height:44px;"><div><span>6.995%</span></div></div><div class="t n" style="left:886px;top:1910px;width:178px;height:44px;"><div><span>437.001%</span></div></div><div class="t nb" style="left:0px;top:1954px;width:91px;height:44px;"><div><span>100</span></div></div><div class="t nb" style="left:91px;top:1954px;width:97px;height:44px;"><div><span>100</span></div></div><div class="t nb" style="left:314px;top:1954px;width:182px;height:44px;"><div><span>517,800</span></div></div><div class="t nb" style="left:496px;top:1954px;width:251px;height:44px;"><div><span>251,961,770</span></div></div><div class="b nb" style="left:773px;top:1954px;height:44px;line-height:44px;white-space:nowrap"><span>7.10</span></div><div class="b" style="left:826px;top:1961px;font-size:21.5px;line-height:30px;color:#fff;-webkit-text-stroke:0.3px #fff;text-shadow:1px 1px 0 #000,2px 2px 0 #000,2px 1px 0 #000;transform:scaleX(.972);transform-origin:0 0;white-space:nowrap">搜狐号@香港友城保险</div></body></html>
